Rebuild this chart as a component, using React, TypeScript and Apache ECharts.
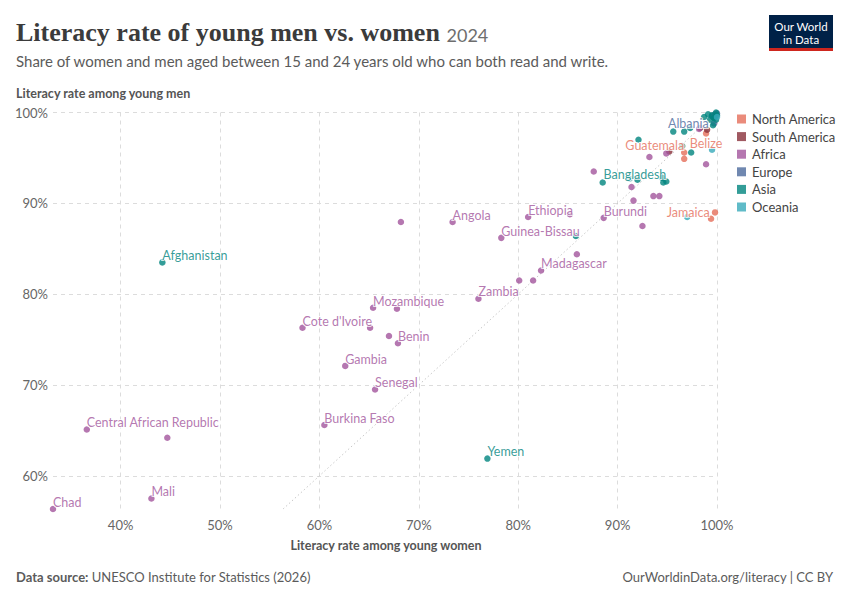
import React, { useEffect, useRef } from "react";
import * as echarts from "echarts";

// [women %, men %, label]
const northAmerica: [number, number, string][] = [
  [99.8, 89.0, "Jamaica"],
  [99.4, 88.3, ""],
  [96.7, 95.6, "Guatemala"],
  [96.7, 94.9, ""],
  [98.9, 97.7, "Belize"],
  [99.9, 99.7, ""],
];
const southAmerica: [number, number, string][] = [
  [95.2, 95.7, ""],
  [98.3, 98.3, ""],
  [99.0, 98.1, ""],
  [99.6, 99.5, ""],
];
const africa: [number, number, string][] = [
  [33.2, 56.35, "Chad"],
  [43.1, 57.5, "Mali"],
  [36.6, 65.1, "Central African Republic"],
  [44.7, 64.2, ""],
  [60.5, 65.6, "Burkina Faso"],
  [65.6, 69.5, "Senegal"],
  [62.6, 72.1, "Gambia"],
  [58.3, 76.3, "Cote d'Ivoire"],
  [65.1, 76.3, ""],
  [65.4, 78.5, "Mozambique"],
  [67.8, 78.4, ""],
  [67.0, 75.4, ""],
  [67.9, 74.6, "Benin"],
  [76.0, 79.5, "Zambia"],
  [80.1, 81.5, ""],
  [81.5, 81.5, ""],
  [82.3, 82.6, "Madagascar"],
  [85.9, 84.4, ""],
  [78.3, 86.2, "Guinea-Bissau"],
  [73.4, 87.95, "Angola"],
  [68.2, 87.95, ""],
  [81.0, 88.5, "Ethiopia"],
  [85.2, 88.8, ""],
  [88.6, 88.4, "Burundi"],
  [92.5, 87.5, ""],
  [87.6, 93.5, ""],
  [91.4, 91.8, ""],
  [91.6, 90.3, ""],
  [93.6, 90.8, ""],
  [94.2, 90.8, ""],
  [93.2, 95.1, ""],
  [98.9, 94.3, ""],
  [94.9, 95.5, ""],
  [98.2, 98.2, ""],
];
const europe: [number, number, string][] = [
  [99.7, 98.8, "Albania"],
  [99.8, 99.8, ""],
  [100.0, 99.9, ""],
  [99.5, 99.6, ""],
];
const asia: [number, number, string][] = [
  [44.2, 83.5, "Afghanistan"],
  [76.9, 61.9, "Yemen"],
  [85.8, 86.4, ""],
  [94.9, 92.4, "Bangladesh"],
  [88.5, 92.3, ""],
  [92.0, 92.6, ""],
  [94.5, 92.8, ""],
  [94.6, 92.3, ""],
  [95.6, 97.9, ""],
  [96.7, 97.9, ""],
  [97.3, 98.3, ""],
  [96.5, 96.3, ""],
  [97.4, 95.6, ""],
  [92.1, 97.0, ""],
  [99.6, 98.6, ""],
  [99.1, 99.8, ""],
  [99.5, 99.7, ""],
  [99.9, 100.0, ""],
  [100.0, 99.7, ""],
  [99.7, 99.4, ""],
  [99.3, 99.2, ""],
  [99.9, 99.2, ""],
  [98.7, 99.5, ""],
];
const oceania: [number, number, string][] = [
  [97.0, 88.5, ""],
  [91.2, 92.7, ""],
  [99.5, 95.9, ""],
  [100.0, 99.5, ""],
];

const continents = ["North America", "South America", "Africa", "Europe", "Asia", "Oceania"];
const continentData = [northAmerica, southAmerica, africa, europe, asia, oceania];
const continentColors = ["#E56E5A", "#883039", "#A2559C", "#4C6A9C", "#00847E", "#38AABA"];
const labelColors = ["#E56E5A", "#883039", "#A2559C", "#4C6A9C", "#00847E", "#2b93a3"];

// label placement (style only)
const placement: Record<string, string> = {
  Jamaica: "l",
  Guatemala: "tl",
  Belize: "b",
  Albania: "l",
  Bangladesh: "tl",
};

const FONT = "Lato, 'Noto Sans', sans-serif";

function labelFor(name: string, color: string) {
  if (!name) return { show: false };
  const p = placement[name] || "tr";
  const base: any = {
    show: true,
    formatter: name,
    color,
    fontFamily: FONT,
    fontSize: 12.5,
    textBorderColor: "#fff",
    textBorderWidth: 2,
  };
  if (p === "tr") return { ...base, position: "top", align: "left", distance: -3, offset: [0, 0] };
  if (p === "tl") return { ...base, position: "top", align: "right", distance: -3, offset: [0, 0] };
  if (p === "l") return { ...base, position: "left", distance: 2 };
  if (p === "b") return { ...base, position: "bottom", distance: 0 };
  return base;
}

export default function App() {
  const ref = useRef<HTMLDivElement>(null);
  useEffect(() => {
    if (!ref.current) return;
    const chart = echarts.init(ref.current, undefined, { renderer: "svg" });
    const allX = continentData.flat().map((d) => d[0]);
    const allY = continentData.flat().map((d) => d[1]);
    const xMin = Math.min(...allX);
    const yMin = Math.min(...allY);
    const diagStart = Math.max(xMin, yMin);

    const series: any[] = [
      {
        type: "line",
        name: "diag",
        data: [
          [diagStart, diagStart],
          [100, 100],
        ],
        symbol: "none",
        silent: true,
        lineStyle: { color: "#c8c8c8", width: 1, type: [1.5, 2.5] },
        z: 1,
      },
    ];
    continents.forEach((c, i) => {
      series.push({
        type: "scatter",
        name: c,
        symbolSize: 6.5,
        itemStyle: { color: continentColors[i], opacity: 0.8 },
        labelLayout: { hideOverlap: false },
        z: 2,
        data: continentData[i].map((d) => ({
          value: [d[0], d[1]],
          label: labelFor(d[2], labelColors[i]),
        })),
      });
    });

    const axisCommon = {
      type: "value",
      max: 100,
      minInterval: 10,
      maxInterval: 10,
      axisLine: { show: false },
      axisTick: { show: false },
      splitLine: {
        show: true,
        showMinLine: false,
        lineStyle: { color: "#dcdcdc", type: [4, 4], width: 1 },
      },
      axisLabel: {
        showMinLabel: false,
        formatter: (v: number) => `${v}%`,
        color: "#666",
        fontFamily: FONT,
        fontSize: 13,
      },
    };

    chart.setOption({
      animation: false,
      backgroundColor: "#fff",
      grid: { left: 53, right: 133, top: 112.5, bottom: 91, containLabel: false },
      xAxis: { ...axisCommon, min: xMin, axisLabel: { ...axisCommon.axisLabel, margin: 9 } },
      yAxis: { ...axisCommon, min: yMin, axisLabel: { ...axisCommon.axisLabel, margin: 5 } },
      legend: {
        data: continents,
        orient: "vertical",
        left: 737,
        top: 112.5,
        padding: 0,
        icon: "rect",
        itemWidth: 9,
        itemHeight: 9,
        itemGap: 4.6,
        textStyle: { color: "#444", fontFamily: FONT, fontSize: 13, padding: [0, 0, 0, 1] },
        selectedMode: false,
      },
      series,
      graphic: [
        {
          type: "text",
          x: 16,
          y: 32,
          style: {
            text: "{t|Literacy rate of young men vs. women}  {y|2024}",
            verticalAlign: "middle",
            rich: {
              t: { fontFamily: "'Liberation Serif', 'DejaVu Serif', serif", fontSize: 26, fill: "#3b3b3b", fontWeight: "bold" },
              y: { fontFamily: FONT, fontSize: 18, fill: "#6e6e6e", padding: [5, 0, 0, 0] },
            },
          },
        },
        {
          type: "text",
          x: 16,
          y: 61,
          style: { text: "Share of women and men aged between 15 and 24 years old who can both read and write.", font: `15px ${FONT}`, fill: "#5b5b5b", verticalAlign: "middle" },
        },
        {
          type: "text",
          x: 16,
          y: 93,
          style: { text: "Literacy rate among young men", font: `bold 12.5px ${FONT}`, fill: "#555", verticalAlign: "middle" },
        },
        {
          type: "text",
          x: 386,
          y: 545,
          style: { text: "Literacy rate among young women", font: `bold 12.5px ${FONT}`, fill: "#555", align: "center", verticalAlign: "middle" },
        },
        {
          type: "text",
          x: 16,
          y: 577,
          style: {
            text: "{b|Data source:} {n|UNESCO Institute for Statistics (2026)}",
            verticalAlign: "middle",
            rich: {
              b: { fontFamily: FONT, fontSize: 13, fontWeight: "bold", fill: "#5b5b5b" },
              n: { fontFamily: FONT, fontSize: 13, fill: "#5b5b5b" },
            },
          },
        },
        {
          type: "text",
          x: 833,
          y: 577,
          style: { text: "OurWorldinData.org/literacy | CC BY", font: `13px ${FONT}`, fill: "#5b5b5b", align: "right", verticalAlign: "middle" },
        },
        { type: "rect", shape: { x: 769, y: 15, width: 64, height: 36 }, style: { fill: "#002147" } },
        { type: "rect", shape: { x: 769, y: 48, width: 64, height: 3 }, style: { fill: "#ce261e" } },
        {
          type: "text",
          x: 801,
          y: 26,
          style: { text: "Our World", font: `11.5px ${FONT}`, fill: "#fff", align: "center", verticalAlign: "middle" },
        },
        {
          type: "text",
          x: 801,
          y: 39.5,
          style: { text: "in Data", font: `11.5px ${FONT}`, fill: "#fff", align: "center", verticalAlign: "middle" },
        },
      ],
    });
    return () => chart.dispose();
  }, []);
  return <div ref={ref} style={{ position: "fixed", left: 0, top: 0, width: 850, height: 600 }} />;
}
